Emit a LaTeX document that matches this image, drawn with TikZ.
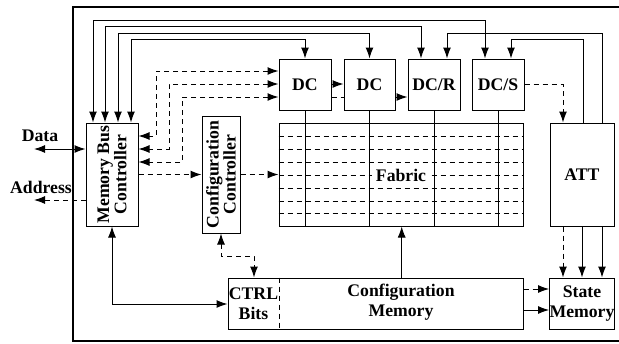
\documentclass[tikz,border=0pt]{standalone}
\usepackage{fontspec}
\setmainfont{Liberation Serif}
\usetikzlibrary{arrows.meta}
\begin{document}
\begin{tikzpicture}[x=1pt,y=-1pt,
  box/.style={draw, line width=1pt, inner sep=0pt, fill=white},
  lbl/.style={font=\bfseries\fontsize{17.7}{20}\selectfont, align=center, inner sep=0pt},
  rlbl/.style={font=\bfseries\fontsize{17.7}{14}\selectfont, align=center, inner sep=0pt, rotate=90},
  tip/.tip={Latex[length=11pt,width=8pt]},
  ln/.style={line width=1pt},
  arr/.style={ln, -tip},
  arrb/.style={ln, tip-tip},
  dsh/.style={dash pattern=on 5pt off 4pt},
  darr/.style={arr, dsh},
  darrb/.style={arrb, dsh}
]
\useasboundingbox (0,0) rectangle (619,343);
\draw[line width=2.3pt] (73,7) rectangle (630,341);

% boxes
\node[box, minimum width=52pt, minimum height=103pt] (mbc) at (112,174.5) {};
\node[box, minimum width=38pt, minimum height=117pt] (cc) at (221,174.5) {};
\node[box, minimum width=52pt, minimum height=51pt, lbl] (dc1) at (305,84.5) {DC};
\node[box, minimum width=51pt, minimum height=51pt, lbl] (dc2) at (369.5,84.5) {DC};
\node[box, minimum width=52pt, minimum height=51pt, lbl] (dcr) at (434,84.5) {DC/R};
\node[box, minimum width=52pt, minimum height=51pt, lbl] (dcs) at (498,84.5) {DC/S};
\node[box, minimum width=244pt, minimum height=103pt] (fab) at (401,174.5) {};
\node[box, minimum width=64pt, minimum height=103pt, lbl] (att) at (582,174.5) {ATT};
\node[box, minimum width=295pt, minimum height=51pt] (cfg) at (375.5,303.5) {};
\node[box, minimum width=64pt, minimum height=51pt, lbl] (sm) at (582,303.5) {State\\Memory};

\node[rlbl] (mbcl) at (mbc.center) {Memory Bus\\Controller};
\node[rlbl] (ccl) at (cc.center) {Configuration\\Controller};
\node[lbl] (ctrl) at (253.5,303.5) {CTRL\\Bits};
\node[lbl] (cfgl) at (401,302) {Configuration\\Memory};
\draw[ln, dsh] (cfg.north -| 279,0) -- (cfg.south -| 279,0);

% fabric internals
\foreach \yy in {136,149,162,175,188,201,213}
  \draw[ln, dsh] (fab.west |- 0,\yy) -- (fab.east |- 0,\yy);
\foreach \d in {dc1,dc2,dcr,dcs}
  \draw[ln] (\d.south) -- (fab.south -| \d.south);
\node[lbl, fill=white, inner xsep=4pt, inner ysep=1pt] (fabl) at (401,175) {Fabric};

% top buses
\draw[arrb] (mbc.north -| 93,0) -- (93,20) -- (485,20) -- (dcs.north -| 485,0);
\draw[arrb] (mbc.north -| 105,0) -- (105,26.5) -- (421,26.5) -- (dcr.north -| 421,0);
\draw[arrb] (mbc.north -| 118,0) -- (118,33) -- (369.5,33) -- (dc2.north);
\draw[arrb] (mbc.north -| 131,0) -- (131,39.5) -- (305,39.5) -- (dc1.north);
\draw[arr] (att.north -| 602,0) -- (602,33) -- (447,33) -- (dcr.north -| 447,0);
\draw[arr] (att.north -| 583,0) -- (583,39.5) -- (511,39.5) -- (dcs.north -| 511,0);

% dashed MBC <-> DC1
\draw[darrb] (dc1.west |- 0,71) -- (156,71) -- (156,136) -- (mbc.east |- 0,136);
\draw[darrb] (dc1.west |- 0,84) -- (169,84) -- (169,149) -- (mbc.east |- 0,149);
\draw[darrb] (dc1.west |- 0,97) -- (182,97) -- (182,162) -- (mbc.east |- 0,162);

% DC chain
\draw[arr] (dc1.east |- 0,84) -- (dc2.west |- 0,84);
\draw[ln, dsh] (dc1.east |- 0,97) -- (dc2.west |- 0,97);
\draw[arr] (dc2.east |- 0,97) -- (dcr.west |- 0,97);
\draw[darr] (dcs.east) -- (563,84.5) -- (att.north -| 563,0);

% controllers
\draw[darr] (mbc.east) -- (cc.west);
\draw[darr] (cc.east) -- (fab.west);
\draw[arrb] (mbc.south) |- (cfg.west |- 0,304);
\draw[darrb] (cc.south) -- (221,256) -- (254,256) -- (cfg.north -| 254,0);

% external
\coordinate (dataend) at (34,149);
\coordinate (addrend) at (34,200);
\draw[arrb] (dataend) -- (mbc.west |- dataend);
\draw[darr] (mbc.west |- addrend) -- (addrend);
\node[lbl] (datal) at (40,136) {Data};
\node[lbl] (addrl) at (41,187) {Address};

% fabric / state memory
\draw[arr] (cfg.north -| 401.7,0) -- (fab.south -| 401.7,0);
\draw[darr] (cfg.east |- 0,289) -- (sm.west |- 0,289);
\draw[arr] (cfg.east |- 0,310) -- (sm.west |- 0,310);
\draw[darr] (att.south -| 563,0) -- (sm.north -| 563,0);
\draw[arr] (att.south -| 582,0) -- (sm.north -| 582,0);
\draw[arr] (att.south -| 602,0) -- (sm.north -| 602,0);
\end{tikzpicture}
\end{document}
